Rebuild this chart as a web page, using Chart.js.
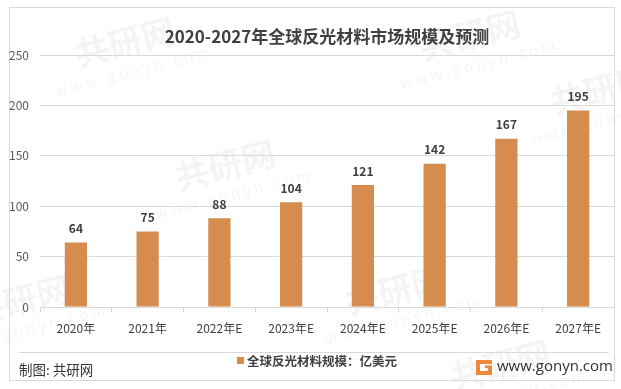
<!DOCTYPE html>
<html>
<head>
<meta charset="utf-8">
<script src="https://cdn.jsdelivr.net/npm/chart.js@4.4.1/dist/chart.umd.min.js"></script>
<style>
  html, body { margin: 0; padding: 0; background: #fff; }
  #wrap { width: 621px; height: 389px; }
</style>
</head>
<body>
<div id="wrap"><canvas id="chart" width="621" height="389"></canvas></div>
<script>
// Data -----------------------------------------------------------------------------------

var years = ['2020年', '2021年', '2022年E', '2023年E', '2024年E', '2025年E', '2026年E', '2027年E'];
var marketSize = [64, 75, 88, 104, 121, 142, 167, 195];
var seriesLabel = '全球反光材料规模：亿美元';
var chartTitle = '2020-2027年全球反光材料市场规模及预测';
var sourceText = '制图: 共研网';
var siteText = 'www.gonyn.com';

// Constants ------------------------------------------------------------------------------

var BAR_COLOR = '#D58C4E';
var GRID_COLOR = '#D9D9D9';
var TEXT_COLOR = '#404040';
var FONT = '"Noto Sans CJK SC", "Noto Sans", sans-serif';

// Plugins --------------------------------------------------------------------------------

var decorPlugin = {
    id: 'decor',
    beforeDraw: function (chart) {
        var ctx = chart.ctx;
        ctx.save();
        ctx.fillStyle = '#fff';
        ctx.fillRect(0, 0, chart.width, chart.height);

        // faint watermarks
        var marks = [[125, 42], [225, 165], [395, 290], [600, 90], [500, 365], [20, 300], [470, 35]];
        marks.forEach(function (m) {
            ctx.save();
            ctx.translate(m[0], m[1]);
            ctx.rotate(-0.25);
            ctx.fillStyle = 'rgba(0,0,0,0.045)';
            ctx.font = 'bold 34px ' + FONT;
            ctx.textAlign = 'center';
            ctx.textBaseline = 'middle';
            ctx.fillText('共研网', 0, 0);
            ctx.font = '15px ' + FONT;
            ctx.fillText('w w w . g o n y n . c o m', 0, 30);
            ctx.restore();
        });

        // frame
        ctx.strokeStyle = GRID_COLOR;
        ctx.lineWidth = 1;
        ctx.strokeRect(9.5, 7.5, 605, 373);

        // title
        var area = chart.chartArea;
        ctx.fillStyle = TEXT_COLOR;
        ctx.font = 'bold 17px ' + FONT;
        ctx.textAlign = 'center';
        ctx.textBaseline = 'middle';
        ctx.fillText(chartTitle, (area.left + area.right) / 2, 37);

        // footer separator
        ctx.beginPath();
        ctx.moveTo(19, 352.5);
        ctx.lineTo(609, 352.5);
        ctx.stroke();
        ctx.restore();
    },
    afterDatasetsDraw: function (chart) {
        var ctx = chart.ctx;
        var meta = chart.getDatasetMeta(0);
        ctx.save();
        ctx.fillStyle = TEXT_COLOR;
        ctx.font = 'bold 12px ' + FONT;
        ctx.textAlign = 'center';
        ctx.textBaseline = 'middle';
        meta.data.forEach(function (bar, i) {
            ctx.fillText(String(marketSize[i]), bar.x, bar.y - 14);
        });
        ctx.restore();
    },
    afterDraw: function (chart) {
        var ctx = chart.ctx;
        ctx.save();
        ctx.textBaseline = 'middle';

        // legend
        ctx.fillStyle = BAR_COLOR;
        ctx.fillRect(237, 357, 7, 7);
        ctx.fillStyle = TEXT_COLOR;
        ctx.font = 'bold 12.5px ' + FONT;
        ctx.textAlign = 'left';
        ctx.fillText(seriesLabel, 247, 361);

        // source
        ctx.fillStyle = '#333';
        ctx.font = '13.5px ' + FONT;
        ctx.fillText(sourceText, 19, 370);

        // logo
        ctx.fillStyle = '#F0883A';
        ctx.beginPath();
        ctx.moveTo(476, 360);
        ctx.lineTo(492, 360);
        ctx.lineTo(492, 364);
        ctx.lineTo(480, 364);
        ctx.lineTo(480, 371);
        ctx.lineTo(488, 371);
        ctx.lineTo(488, 368);
        ctx.lineTo(485, 368);
        ctx.lineTo(485, 365.5);
        ctx.lineTo(492, 365.5);
        ctx.lineTo(492, 375);
        ctx.lineTo(476, 375);
        ctx.closePath();
        ctx.fill();

        ctx.fillStyle = '#333';
        ctx.font = '15px "Open Sans", sans-serif';
        ctx.fillText(siteText, 497, 367);
        ctx.restore();
    }
};

// Chart ----------------------------------------------------------------------------------

function initChart() {
    var context = document.getElementById('chart').getContext('2d');

    new Chart(context, {
        type: 'bar',
        data: {
            labels: years,
            datasets: [{
                label: seriesLabel,
                data: marketSize,
                backgroundColor: BAR_COLOR,
                borderWidth: 0,
                categoryPercentage: 1.0,
                barPercentage: 0.31
            }]
        },
        options: {
            responsive: false,
            animation: false,
            layout: { padding: { top: 55, right: 7, left: 0, bottom: 0 } },
            plugins: {
                legend: { display: false },
                title: { display: false },
                tooltip: { enabled: false }
            },
            scales: {
                x: {
                    afterFit: function (scale) { scale.height = 82; },
                    border: { color: GRID_COLOR },
                    grid: {
                        drawOnChartArea: false,
                        drawTicks: true,
                        tickLength: 5,
                        color: GRID_COLOR
                    },
                    ticks: {
                        color: TEXT_COLOR,
                        padding: 9,
                        font: { family: FONT, size: 12 }
                    }
                },
                y: {
                    min: 0,
                    max: 250,
                    afterFit: function (scale) { scale.width = 40; },
                    border: { display: false },
                    grid: { color: GRID_COLOR, drawTicks: false },
                    ticks: {
                        stepSize: 50,
                        color: '#595959',
                        padding: 11,
                        font: { family: FONT, size: 12 }
                    }
                }
            }
        },
        plugins: [decorPlugin]
    });
}

initChart();
</script>
</body>
</html>
